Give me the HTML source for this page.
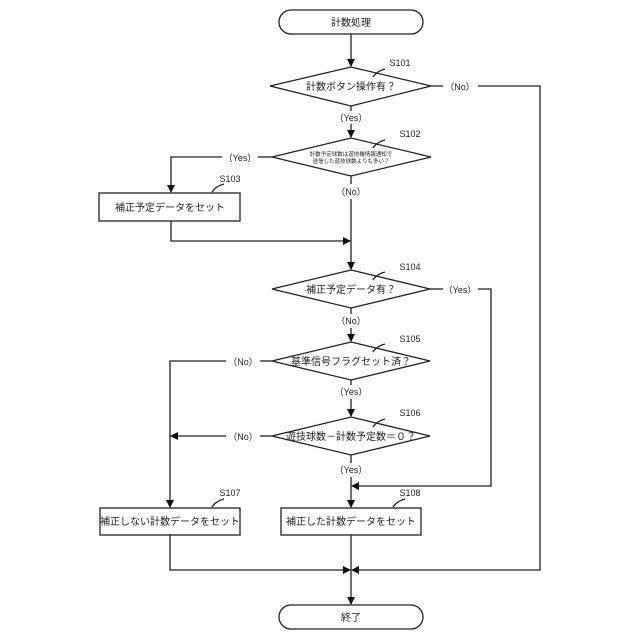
<!DOCTYPE html>
<html><head><meta charset="utf-8"><style>
html,body{margin:0;padding:0;background:#fff;}
svg{display:block;}
text{font-family:"Liberation Sans","Noto Sans CJK JP",sans-serif;fill:#222;}
</style></head><body>
<svg width="640" height="640" viewBox="0 0 640 640" xmlns="http://www.w3.org/2000/svg">
<defs>
<marker id="a" markerWidth="8" markerHeight="8" refX="7" refY="4" orient="auto" markerUnits="userSpaceOnUse">
<path d="M0,0 L8,4 L0,8 Z" fill="#111"/></marker>
</defs>
<g stroke="#222" stroke-width="1.3" fill="none">
<!-- start -->
<rect x="279" y="10" width="144" height="24" rx="12" fill="#fff"/>
<line x1="351" y1="34" x2="351" y2="66" marker-end="url(#a)"/>
<!-- S101 -->
<polygon points="270,86 351,67 431,86 351,106" fill="#fff"/>
<line x1="431" y1="86" x2="443" y2="86"/>
<polyline points="478,86 540,86 540,570 352,570" marker-end="url(#a)"/>
<line x1="351" y1="106" x2="351" y2="111"/>
<line x1="351" y1="124" x2="351" y2="137" marker-end="url(#a)"/>
<!-- S102 -->
<polygon points="272,157 351,138 431,157 351,176" fill="#fff"/>
<line x1="272" y1="157" x2="258" y2="157"/>
<polyline points="222,157 171,157 171,192" marker-end="url(#a)"/>
<line x1="351" y1="176" x2="351" y2="184"/>
<line x1="351" y1="199" x2="351" y2="269" marker-end="url(#a)"/>
<!-- S103 -->
<rect x="99" y="193" width="141" height="28" fill="#fff"/>
<polyline points="171,221 171,241 350,241" marker-end="url(#a)"/>
<!-- S104 -->
<polygon points="272,289 351,270 430,289 351,308" fill="#fff"/>
<line x1="430" y1="289" x2="443" y2="289"/>
<polyline points="478,289 491,289 491,486 352,486" marker-end="url(#a)"/>
<line x1="351" y1="308" x2="351" y2="314"/>
<line x1="351" y1="328" x2="351" y2="341" marker-end="url(#a)"/>
<!-- S105 -->
<polygon points="272,361 351,342 430,361 351,380" fill="#fff"/>
<line x1="272" y1="361" x2="260" y2="361"/>
<polyline points="226,361 170,361 170,507" marker-end="url(#a)"/>
<line x1="351" y1="380" x2="351" y2="385"/>
<line x1="351" y1="399" x2="351" y2="416" marker-end="url(#a)"/>
<!-- S106 -->
<polygon points="272,436 351,417 430,436 351,455" fill="#fff"/>
<line x1="272" y1="436" x2="260" y2="436"/>
<line x1="226" y1="436" x2="171" y2="436" marker-end="url(#a)"/>
<line x1="351" y1="455" x2="351" y2="463"/>
<line x1="351" y1="477" x2="351" y2="507" marker-end="url(#a)"/>
<!-- S107, S108 -->
<rect x="100" y="508" width="140" height="27" fill="#fff"/>
<rect x="281" y="508" width="140" height="27" fill="#fff"/>
<polyline points="170,535 170,570 350,570" marker-end="url(#a)"/>
<line x1="351" y1="535" x2="351" y2="604" marker-end="url(#a)"/>
<!-- end -->
<rect x="279" y="605" width="144" height="24" rx="12" fill="#fff"/>
<!-- step label ticks -->
<path d="M373,77 q4,-6 12,-8"/>
<path d="M373,148 q4,-6 12,-8"/>
<path d="M212,192 q4,-6 12,-8"/>
<path d="M373,280 q4,-6 12,-8"/>
<path d="M373,352 q4,-6 12,-8"/>
<path d="M373,427 q4,-6 12,-8"/>
<path d="M212,507 q4,-6 12,-8"/>
<path d="M393,507 q4,-6 12,-8"/>
</g>
<g font-size="10" text-anchor="middle">
<text x="351" y="26">計数処理</text>
<text x="351" y="90">計数ボタン操作有？</text>
<text x="351" y="156" font-size="5.5">計数予定球数は遊技機情報通知で</text>
<text x="351" y="163" font-size="5.5">送信した遊技球数よりも多い？</text>
<text x="170" y="211">補正予定データをセット</text>
<text x="351" y="293">補正予定データ有？</text>
<text x="351" y="365">基準信号フラグセット済？</text>
<text x="351" y="440">遊技球数－計数予定数＝０？</text>
<text x="170" y="525">補正しない計数データをセット</text>
<text x="351" y="525">補正した計数データをセット</text>
<text x="351" y="621">終了</text>
</g>
<g font-size="9" text-anchor="middle">
<text x="400" y="66">S101</text>
<text x="410" y="137">S102</text>
<text x="230" y="182">S103</text>
<text x="410" y="270">S104</text>
<text x="410" y="342">S105</text>
<text x="410" y="416">S106</text>
<text x="230" y="496">S107</text>
<text x="410" y="496">S108</text>
<text x="460" y="90">（No）</text>
<text x="351" y="121">（Yes）</text>
<text x="240" y="161">（Yes）</text>
<text x="351" y="195">（No）</text>
<text x="460" y="293">（Yes）</text>
<text x="351" y="324">（No）</text>
<text x="243" y="365">（No）</text>
<text x="351" y="395">（Yes）</text>
<text x="243" y="440">（No）</text>
<text x="351" y="473">（Yes）</text>
</g>
</svg>
</body></html>
